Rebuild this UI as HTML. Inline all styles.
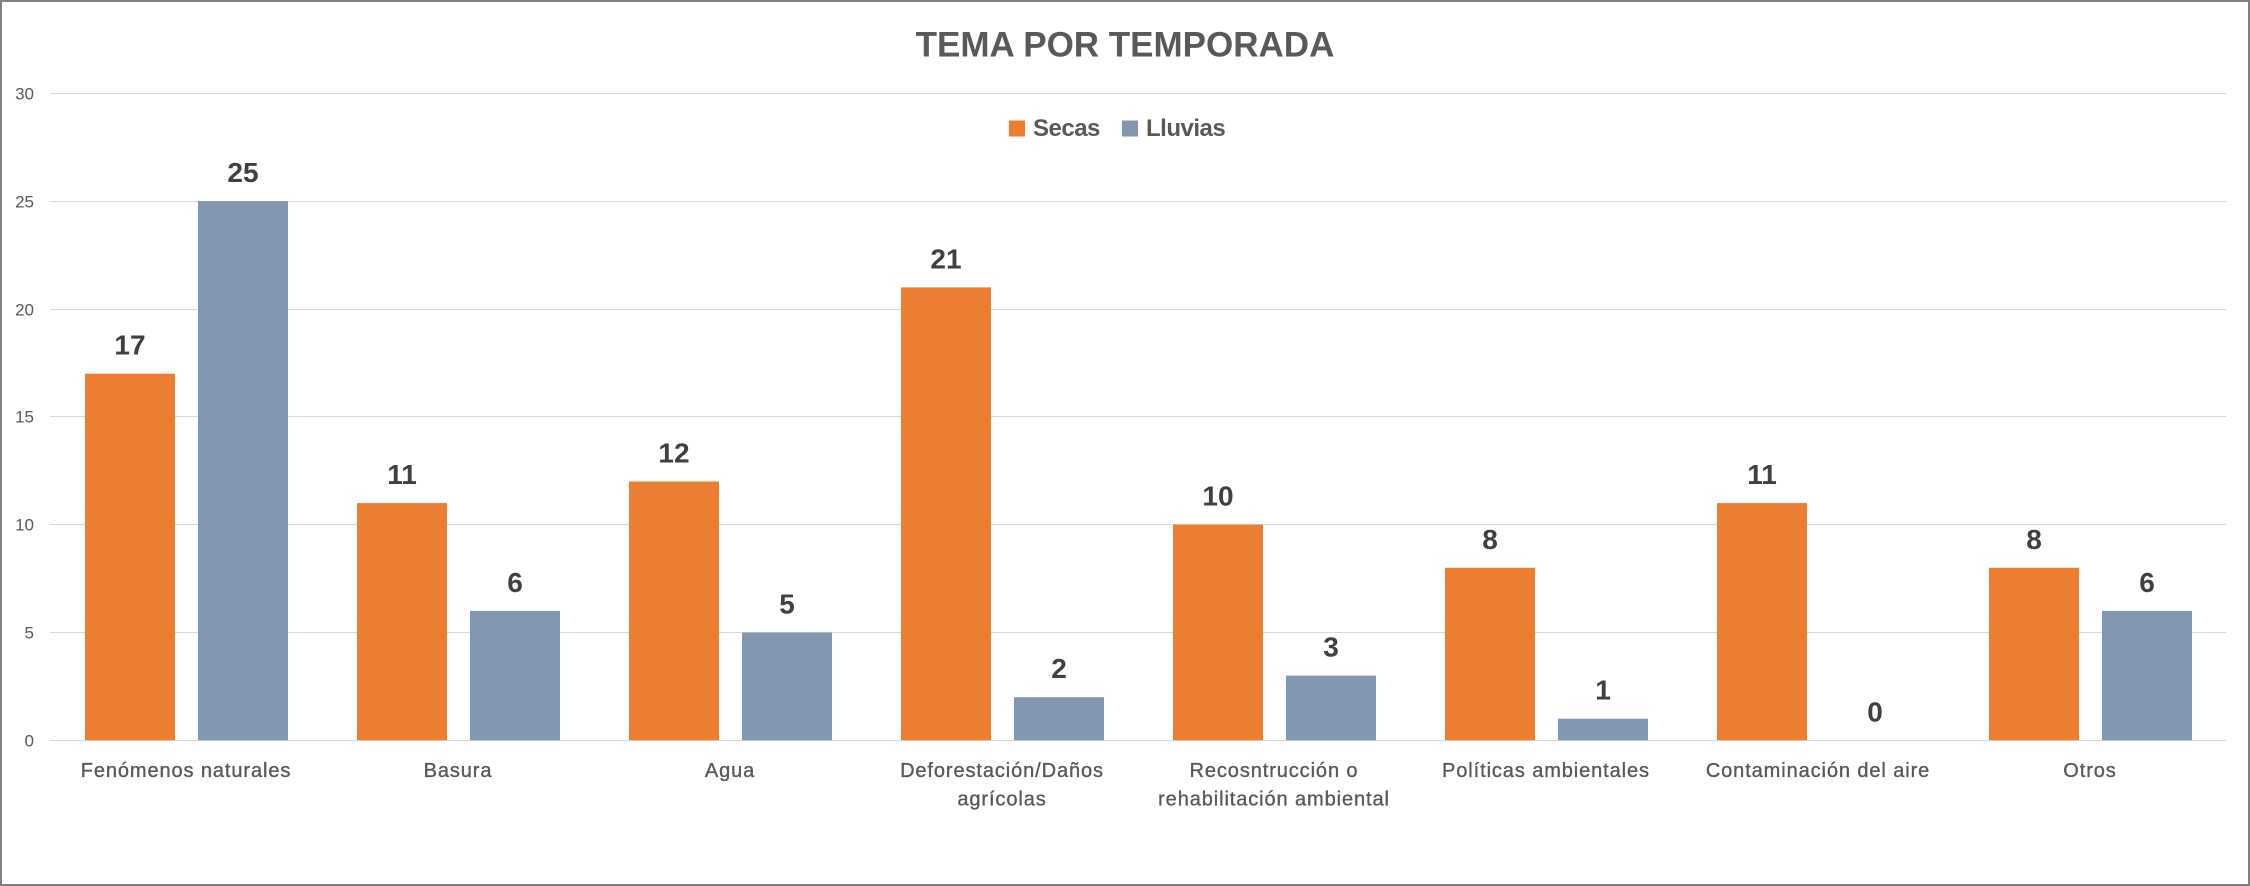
<!DOCTYPE html>
<html>
<head>
<meta charset="utf-8">
<style>
  html, body { margin: 0; padding: 0; background: #ffffff; }
  body { width: 2250px; height: 886px; overflow: hidden; }
  svg { display: block; }
  .tick { font-family: "Liberation Sans", sans-serif; font-size: 17px; fill: #595959; }
  .cat { font-family: "Liberation Sans", sans-serif; font-size: 20px; fill: #595959; stroke: #595959; stroke-width: 0.35px; letter-spacing: 0.9px; }
  .val { font-family: "Liberation Sans", sans-serif; font-size: 28px; font-weight: bold; fill: #404040; }
  .leg { font-family: "Liberation Sans", sans-serif; font-size: 24px; font-weight: bold; fill: #595959; letter-spacing: -0.5px; }
  .title { font-family: "Liberation Sans", sans-serif; font-size: 35px; font-weight: bold; fill: #595959; }
</style>
</head>
<body>
<svg width="2250" height="886" viewBox="0 0 2250 886" xmlns="http://www.w3.org/2000/svg">
  <rect x="0" y="0" width="2250" height="886" fill="#ffffff"/>

  <!-- Title -->
  <text class="title" x="1125" y="56.7" text-anchor="middle">TEMA POR TEMPORADA</text>

  <!-- Gridlines -->
  <g stroke="#d9d9d9" stroke-width="1">
    <line x1="50" y1="93.5" x2="2226" y2="93.5"/>
    <line x1="50" y1="201.5" x2="2226" y2="201.5"/>
    <line x1="50" y1="309.5" x2="2226" y2="309.5"/>
    <line x1="50" y1="416.5" x2="2226" y2="416.5"/>
    <line x1="50" y1="524.5" x2="2226" y2="524.5"/>
    <line x1="50" y1="632.5" x2="2226" y2="632.5"/>
    <line x1="50" y1="740.5" x2="2226" y2="740.5"/>
  </g>

  <!-- Y tick labels -->
  <g class="tick" text-anchor="end">
    <text x="34" y="99.5">30</text>
    <text x="34" y="207.5">25</text>
    <text x="34" y="315.5">20</text>
    <text x="34" y="422.5">15</text>
    <text x="34" y="530.5">10</text>
    <text x="34" y="638.5">5</text>
    <text x="34" y="746.5">0</text>
  </g>

  <!-- Legend -->
  <rect x="1009" y="120.5" width="16" height="16" fill="#ED7D31"/>
  <text class="leg" x="1033" y="136">Secas</text>
  <rect x="1122" y="120.5" width="16" height="16" fill="#8497B0"/>
  <text class="leg" x="1146" y="136">Lluvias</text>

  <!-- Bars: Secas (orange) -->
  <g fill="#ED7D31">
    <rect x="85"   y="373.7" width="90" height="366.6"/>
    <rect x="357"  y="503.1" width="90" height="237.2"/>
    <rect x="629"  y="481.5" width="90" height="258.8"/>
    <rect x="901"  y="287.4" width="90" height="452.9"/>
    <rect x="1173" y="524.6" width="90" height="215.7"/>
    <rect x="1445" y="567.8" width="90" height="172.5"/>
    <rect x="1717" y="503.1" width="90" height="237.2"/>
    <rect x="1989" y="567.8" width="90" height="172.5"/>
  </g>

  <!-- Bars: Lluvias (blue-gray) -->
  <g fill="#8497B0">
    <rect x="198"  y="201.1" width="90" height="539.2"/>
    <rect x="470"  y="610.9" width="90" height="129.4"/>
    <rect x="742"  y="632.5" width="90" height="107.8"/>
    <rect x="1014" y="697.2" width="90" height="43.1"/>
    <rect x="1286" y="675.6" width="90" height="64.7"/>
    <rect x="1558" y="718.7" width="90" height="21.6"/>
    <rect x="2102" y="610.9" width="90" height="129.4"/>
  </g>

  <!-- Data labels -->
  <g class="val" text-anchor="middle">
    <text x="130"  y="354.7">17</text>
    <text x="243"  y="182.1">25</text>
    <text x="402"  y="484.1">11</text>
    <text x="515"  y="591.9">6</text>
    <text x="674"  y="462.5">12</text>
    <text x="787"  y="613.5">5</text>
    <text x="946"  y="268.4">21</text>
    <text x="1059" y="678.2">2</text>
    <text x="1218" y="505.6">10</text>
    <text x="1331" y="656.6">3</text>
    <text x="1490" y="548.8">8</text>
    <text x="1603" y="699.7">1</text>
    <text x="1762" y="484.1">11</text>
    <text x="1875" y="721.3">0</text>
    <text x="2034" y="548.8">8</text>
    <text x="2147" y="591.9">6</text>
  </g>

  <!-- Category labels -->
  <g class="cat" text-anchor="middle">
    <text x="186"  y="777">Fenómenos naturales</text>
    <text x="458"  y="777">Basura</text>
    <text x="730"  y="777">Agua</text>
    <text x="1002" y="777">Deforestación/Daños</text>
    <text x="1002" y="805.5">agrícolas</text>
    <text x="1274" y="777">Recosntrucción o</text>
    <text x="1274" y="805.5">rehabilitación ambiental</text>
    <text x="1546" y="777">Políticas ambientales</text>
    <text x="1818" y="777">Contaminación del aire</text>
    <text x="2090" y="777">Otros</text>
  </g>

  <!-- Outer border -->
  <rect x="1" y="1" width="2248" height="884" fill="none" stroke="#808080" stroke-width="2"/>
</svg>
</body>
</html>
